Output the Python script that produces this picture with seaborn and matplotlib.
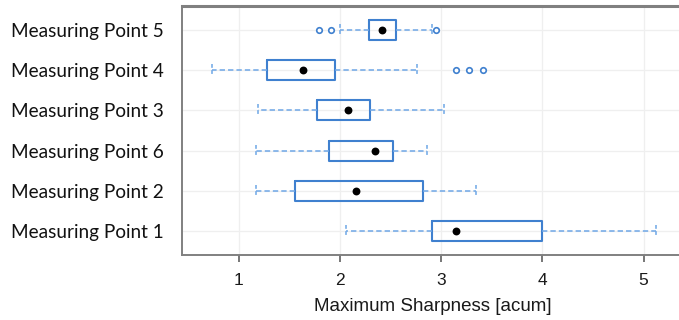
import matplotlib
matplotlib.use("Agg")
import matplotlib.pyplot as plt
import seaborn as sns
import pandas as pd

# Measuring points, listed top to bottom
points = ["Measuring Point 5", "Measuring Point 4", "Measuring Point 3",
          "Measuring Point 6", "Measuring Point 2", "Measuring Point 1"]

# Box statistics of maximum sharpness [acum]
whisker_low = [2.00, 0.73, 1.19, 1.17, 1.17, 2.06]
q1 = [2.29, 1.28, 1.77, 1.89, 1.55, 2.91]
median = [2.41, 1.63, 2.08, 2.35, 2.16, 3.15]
q3 = [2.55, 1.95, 2.30, 2.52, 2.82, 4.00]
whisker_high = [2.91, 2.76, 3.03, 2.86, 3.34, 5.12]
outliers = [[1.79, 1.91, 2.95], [3.15, 3.27, 3.41], [], [], [], []]

x_ticks = [1, 2, 3, 4, 5]

sns.set_theme(style="white")
plt.rcParams["font.family"] = ["Liberation Sans", "DejaVu Sans"]

box_color = "#3f80cf"
whisk_color = "#6ea7e6"

fig = plt.figure(figsize=(6.79, 3.20), dpi=100)
ax = fig.add_axes([182 / 679, 65 / 320, 502 / 679, 249 / 320])

stats = []
for i in range(len(points)):
    stats.append(dict(med=median[i], q1=q1[i], q3=q3[i],
                      whislo=whisker_low[i], whishi=whisker_high[i],
                      fliers=outliers[i]))

ax.bxp(stats, positions=list(range(len(points))), orientation="horizontal",
       widths=0.5, capwidths=0.3, showfliers=False,
       boxprops=dict(color=box_color, linewidth=1.5),
       whiskerprops=dict(color=whisk_color, linewidth=1.1, linestyle=(0, (3.5, 2))),
       capprops=dict(color=whisk_color, linewidth=1.1, linestyle=(0, (2.5, 1.5))),
       medianprops=dict(linewidth=0),
       zorder=3)

# Outliers as small open circles
fl = pd.DataFrame([(v, points[i]) for i, vals in enumerate(outliers) for v in vals],
                  columns=["value", "point"])
sns.scatterplot(data=fl, x="value", y="point", ax=ax, marker="o", s=16,
                facecolor="white", edgecolor=box_color, linewidth=1.2, zorder=4)

# Medians as black dots
md = pd.DataFrame({"value": median, "point": points})
sns.scatterplot(data=md, x="value", y="point", ax=ax, color="black", s=32,
                linewidth=0, zorder=5)

ax.set_xlim(0.437, 5.40)
ax.set_ylim(5.6, -0.6)
ax.set_xticks(x_ticks)
ax.set_xticklabels([str(t) for t in x_ticks], fontsize=12.5)
ax.set_yticks(range(len(points)))
ax.set_yticklabels(points, fontsize=13.7, family=["Lato", "DejaVu Sans"], color="#111111")
ax.set_xlabel("Maximum Sharpness [acum]", fontsize=13.5, labelpad=7, color="#1a1a1a")
ax.set_ylabel("")

ax.grid(True, color="#efefef", linewidth=0.9, zorder=0)
ax.set_axisbelow(True)

for side in ["left", "bottom", "top", "right"]:
    ax.spines[side].set_color("#808080")
    ax.spines[side].set_linewidth(1.4)
ax.spines["top"].set_linewidth(2.2)

ax.tick_params(axis="x", bottom=True, length=5, width=1.2, color="#606060",
               direction="out", pad=8, labelcolor="#1a1a1a")
ax.tick_params(axis="y", left=False, pad=7)

fig.savefig("out.png", dpi=100)
